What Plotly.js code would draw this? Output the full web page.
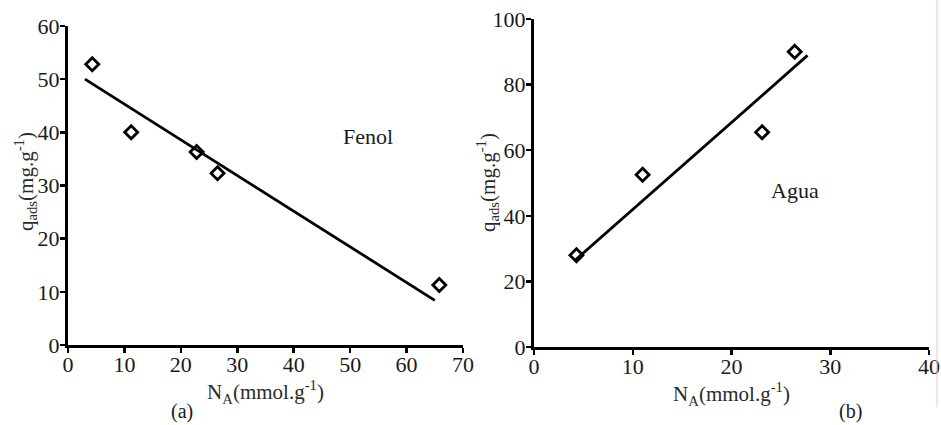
<!DOCTYPE html>
<html>
<head>
<meta charset="utf-8">
<script src="https://cdn.plot.ly/plotly-3.0.1.min.js"></script>
<style>html,body{margin:0;padding:0;background:#fff;}#chart{width:941px;height:425px;}</style>
</head>
<body>
<div id="chart"></div>
<script>
// Panel (a): Fenol
const fenolX = [4.3, 11.2, 22.8, 26.5, 65.8];
const fenolY = [52.8, 40.0, 36.3, 32.3, 11.3];
const fenolFitX = [3.0, 65.0];
const fenolFitY = [50.0, 8.4];

// Panel (b): Agua
const aguaX = [4.3, 11.0, 23.1, 26.4];
const aguaY = [28.0, 52.5, 65.5, 90.0];
const aguaFitX = [4.1, 27.7];
const aguaFitY = [26.3, 88.9];

const xTicksA = [0, 10, 20, 30, 40, 50, 60, 70];
const yTicksA = [0, 10, 20, 30, 40, 50, 60];
const xTicksB = [0, 10, 20, 30, 40];
const yTicksB = [0, 20, 40, 60, 80, 100];

const FONT = "'Liberation Serif', 'Times New Roman', serif";
const W = 941, H = 425;
const px = v => v / W;
const py = v => (H - v) / H;

const marker = {symbol: 'diamond-open', size: 10, color: '#000', line: {color: '#000', width: 2.8}};

const traces = [
  {x: fenolFitX, y: fenolFitY, mode: 'lines', line: {color: '#000', width: 2.8}, xaxis: 'x', yaxis: 'y', hoverinfo: 'skip'},
  {x: fenolX, y: fenolY, mode: 'markers', marker: marker, xaxis: 'x', yaxis: 'y'},
  {x: aguaFitX, y: aguaFitY, mode: 'lines', line: {color: '#000', width: 2.8}, xaxis: 'x2', yaxis: 'y2', hoverinfo: 'skip'},
  {x: aguaX, y: aguaY, mode: 'markers', marker: marker, xaxis: 'x2', yaxis: 'y2'}
];

function axisBase(extra) {
  return Object.assign({
    showline: true, linecolor: '#000', linewidth: 3,
    ticks: 'outside', ticklen: 5, tickwidth: 2.5, tickcolor: '#000',
    showgrid: false, zeroline: false,
    tickfont: {family: FONT, size: 22, color: '#1a1a1a'},
    fixedrange: true
  }, extra);
}

const xTitleText = 'N<sub>A</sub>(mmol.g<sup>-1</sup>)';
const yTitleText = 'q<sub>ads</sub>(mg.g<sup>-1</sup>)';

const layout = {
  width: W, height: H, autosize: false,
  margin: {l: 0, r: 0, t: 0, b: 0},
  paper_bgcolor: '#fff', plot_bgcolor: '#fff',
  showlegend: false,
  font: {family: FONT, size: 20, color: '#222'},
  xaxis: axisBase({domain: [px(68), px(463)], range: [0, 70], tickvals: xTicksA, anchor: 'y', ticklabelstandoff: -7,
    title: {text: xTitleText, font: {family: FONT, size: 21, color: '#2a2a2a'}, standoff: 2}}),
  yaxis: axisBase({domain: [py(345), py(26)], range: [0, 60], tickvals: yTicksA, anchor: 'x', ticklabelstandoff: -4}),
  xaxis2: axisBase({domain: [px(534), px(929)], range: [0, 40], tickvals: xTicksB, anchor: 'y2', ticklabelstandoff: -7,
    title: {text: xTitleText, font: {family: FONT, size: 21, color: '#2a2a2a'}, standoff: 2}}),
  yaxis2: axisBase({domain: [py(347), py(19)], range: [0, 100], tickvals: yTicksB, anchor: 'x2', ticklabelstandoff: -4}),
  annotations: [
    {text: yTitleText, textangle: -90, xref: 'paper', yref: 'paper', x: px(25), y: py(182),
     xanchor: 'center', yanchor: 'middle', showarrow: false, font: {family: FONT, size: 21, color: '#2a2a2a'}},
    {text: yTitleText, textangle: -90, xref: 'paper', yref: 'paper', x: px(488), y: py(183),
     xanchor: 'center', yanchor: 'middle', showarrow: false, font: {family: FONT, size: 21, color: '#2a2a2a'}},
    {text: 'Fenol', xref: 'x', yref: 'y', x: 53.1, y: 39.3, xanchor: 'center', yanchor: 'middle',
     showarrow: false, font: {family: FONT, size: 22, color: '#1a1a1a'}},
    {text: 'Agua', xref: 'x2', yref: 'y2', x: 26.4, y: 47.6, xanchor: 'center', yanchor: 'middle',
     showarrow: false, font: {family: FONT, size: 22, color: '#1a1a1a'}},
    {text: '(a)', xref: 'paper', yref: 'paper', x: px(182), y: py(424), xanchor: 'center', yanchor: 'bottom',
     borderpad: 0, showarrow: false, font: {family: FONT, size: 20, color: '#1a1a1a'}},
    {text: '(b)', xref: 'paper', yref: 'paper', x: px(850), y: py(424), xanchor: 'center', yanchor: 'bottom',
     borderpad: 0, showarrow: false, font: {family: FONT, size: 20, color: '#1a1a1a'}}
  ],
  shapes: [
    {type: 'line', xref: 'paper', yref: 'paper', x0: px(937), x1: px(937), y0: py(407), y1: 1,
     line: {color: '#f6c4c4', width: 1}}
  ]
};

Plotly.newPlot('chart', traces, layout, {staticPlot: true, displayModeBar: false});
</script>
</body>
</html>
